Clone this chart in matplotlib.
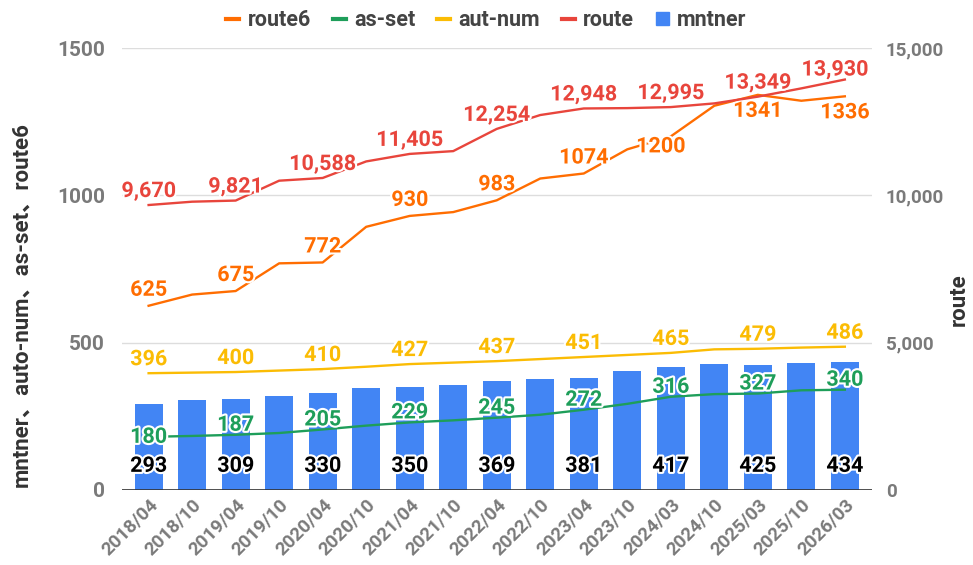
import numpy as np
import matplotlib
matplotlib.use("Agg")
from matplotlib import pyplot as plt
from matplotlib import patheffects as pe
from matplotlib.lines import Line2D
from matplotlib.patches import Patch

plt.rcParams['font.family'] = ['Roboto', 'Noto Sans CJK SC', 'DejaVu Sans']
plt.rcParams['font.weight'] = 'bold'

# data
periods = ['2018/04', '2018/10', '2019/04', '2019/10', '2020/04', '2020/10',
           '2021/04', '2021/10', '2022/04', '2022/10', '2023/04', '2023/10',
           '2024/03', '2024/10', '2025/03', '2025/10', '2026/03']
mntner = [293, 304, 309, 320, 330, 346, 350, 357, 369, 378, 381, 402,
          417, 426, 425, 431, 434]
aut_num = [396, 398, 400, 405, 410, 418, 427, 432, 437, 444, 451, 458,
           465, 477, 479, 483, 486]
as_set = [180, 183, 187, 193, 205, 218, 229, 236, 245, 255, 272, 292,
          316, 325, 327, 338, 340]
route6 = [625, 663, 675, 769, 772, 893, 930, 943, 983, 1057, 1074, 1156,
          1200, 1304, 1341, 1321, 1336]
route = [9670, 9783, 9821, 10496, 10588, 11150, 11405, 11500, 12254, 12725,
         12948, 12960, 12995, 13120, 13349, 13630, 13930]

c_blue = '#4285f4'
c_red = '#e8453c'
c_yel = '#fbbc04'
c_grn = '#1e9e5a'
c_org = '#ff6d01'
c_tick = '#7a7a7a'

fig = plt.figure(figsize=(9.73, 5.65), dpi=100)
ax = fig.add_axes([0.125, 0.133, 0.771, 0.782])
ax2 = ax.twinx()

x = np.arange(len(periods))
halo = [pe.withStroke(linewidth=3, foreground='white')]

ax.bar(x, mntner, width=0.64, color=c_blue, zorder=2)
ax.plot(x, aut_num, color=c_yel, lw=1.7, zorder=3)
ax.plot(x, as_set, color=c_grn, lw=1.7, zorder=3)
ax.plot(x, route6, color=c_org, lw=1.7, zorder=3)
ax2.plot(x, route, color=c_red, lw=1.7, zorder=3)

ax.set_xlim(-0.62, 16.62)
ax.set_ylim(0, 1500)
ax2.set_ylim(0, 15000)
ax.set_yticks([0, 500, 1000, 1500])
ax2.set_yticks([0, 5000, 10000, 15000])
ax2.set_yticklabels(['0', '5,000', '10,000', '15,000'])
ax.grid(axis='y', color='#dddddd', lw=1, zorder=0)
ax.set_axisbelow(True)
for a in (ax, ax2):
    for s in a.spines.values():
        s.set_visible(False)
ax.axhline(0, color='#333333', lw=1.2, zorder=4)

ax.set_xticks(x)
ax.set_xticklabels(periods, rotation=45, ha='right', rotation_mode='anchor')
ax.tick_params(axis='x', length=0, pad=4, labelsize=13.5, labelcolor=c_tick)
ax.tick_params(axis='y', length=0, pad=12, labelsize=15, labelcolor=c_tick)
ax2.tick_params(axis='y', length=0, pad=10, labelsize=13.5, labelcolor=c_tick)

ax2.set_zorder(ax.get_zorder() + 1)
ax2.patch.set_visible(False)


def label(a, i, v, txt, col, dy, dx=0, size=15.5):
    a.annotate(txt, (i, v), xytext=(dx, dy), textcoords='offset pixels',
               ha='center', va='center', color=col, fontsize=size,
               fontweight='bold', path_effects=halo, zorder=6)


for i in range(0, len(periods), 2):
    last = i == len(periods) - 1
    label(ax, i, 0, str(mntner[i]), 'black', 24)
    label(ax, i, aut_num[i], str(aut_num[i]), c_yel, 14)
    label(ax, i, as_set[i], str(as_set[i]), c_grn, 0 if i == 0 else 10)
    dy6 = -16 if i >= 14 else (-10 if i == 12 else 16)
    label(ax, i, route6[i], str(route6[i]), c_org, dy6, -10 if i == 12 else 0)
    label(ax2, i, route[i], f'{route[i]:,}', c_red, 10 if last else 14, -10 if last else 0)

fig.text(0.022, 1 - 305 / 565, 'mntner、auto-num、as-set、route6', rotation=90,
         ha='center', va='center', fontsize=16, fontweight='bold', color='#333333')
fig.text(0.985, 1 - 300 / 565, 'route', rotation=90, ha='center', va='center',
         fontsize=16, fontweight='bold', color='#333333')

handles = [Line2D([], [], color=c_org, lw=3),
           Line2D([], [], color=c_grn, lw=3),
           Line2D([], [], color=c_yel, lw=3),
           Line2D([], [], color=c_red, lw=3),
           Patch(color=c_blue)]
names = ['route6', 'as-set', 'aut-num', 'route', 'mntner']
leg = fig.legend(handles, names, loc='center', bbox_to_anchor=(0.5, 1 - 20 / 565),
                 ncol=5, frameon=False, fontsize=15.5, handlelength=0.6,
                 handleheight=0.6, handletextpad=0.4, columnspacing=1.0)
for t in leg.get_texts():
    t.set_color('#444444')
    t.set_fontweight('bold')

plt.savefig('out.png', dpi=100)
